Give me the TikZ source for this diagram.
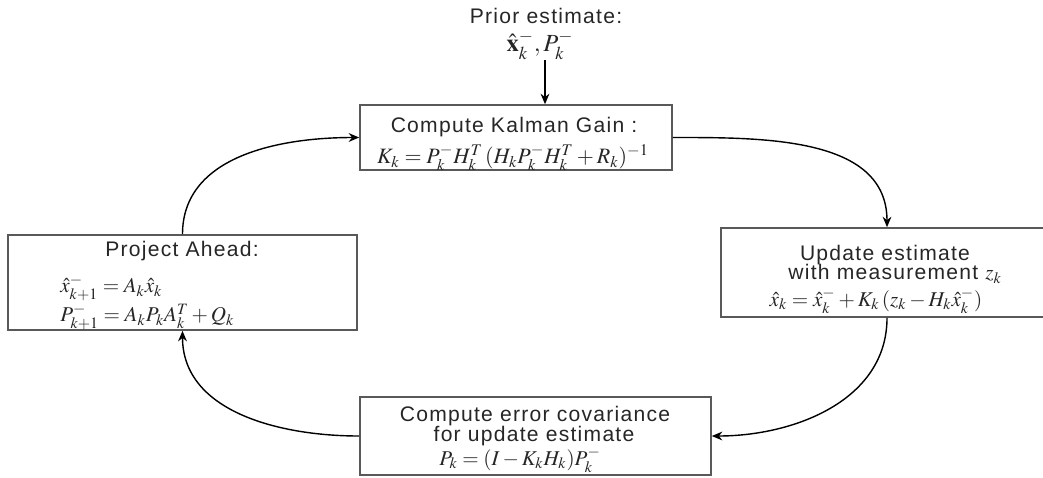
\documentclass[tikz,border=0pt]{standalone}
\usepackage{mathptmx}
\usepackage[no-math]{fontspec}
\setmainfont{Liberation Sans}
\newfontfamily\lab[LetterSpace=6]{Liberation Sans}
\usetikzlibrary{arrows.meta}
\begin{document}
\begin{tikzpicture}[x=0.02cm,y=-0.02cm,
  box/.style={draw=black!65, line width=0.9pt, inner sep=0pt},
  lbl/.style={inner sep=0pt, text=black!85, font=\lab\fontsize{12}{14}\selectfont},
  eq/.style={inner sep=0pt, text=black!85, font=\fontsize{12}{14}\selectfont},
  arr/.style={line width=0.8pt, -{Stealth[length=6pt,width=5pt]}}]
\useasboundingbox (0,0) rectangle (1043,477);
% boxes
\node[box, minimum width=312*0.02cm, minimum height=65*0.02cm] (t) at (516,137.5) {};
\node[box, minimum width=349*0.02cm, minimum height=95*0.02cm] (l) at (182.5,282.5) {};
\node[box, minimum width=332*0.02cm, minimum height=89*0.02cm] (r) at (887,272.5) {};
\node[box, minimum width=351*0.02cm, minimum height=78*0.02cm] (b) at (535.5,436) {};
% prior
\node[lbl] (p1) at (546,16) {Prior estimate:};
\node[eq, font=\fontsize{14}{16}\selectfont] (p2) at (540,45) {$\hat{\mathbf{x}}_k^-, P_k^-$};
% top box text
\node[lbl] (t1) at (514,127) {Compute Kalman Gain :};
\node[eq, font=\fontsize{12.5}{14}\selectfont] (t2) at (513,158) {$K_k = P_k^- H_k^T\,(H_k P_k^- H_k^T + R_k)^{-1}$};
% left box text
\node[lbl] (l1) at (182,251) {Project Ahead:};
\node[eq, anchor=west] (l2) at (60,288) {$\hat{x}_{k+1}^- = A_k \hat{x}_k$};
\node[eq, anchor=west] (l3) at (60,317) {$P_{k+1}^- = A_k P_k A_k^T + Q_k$};
% right box text
\node[lbl] (r1) at (885,255) {Update estimate};
\node[lbl, anchor=west] (r2) at (788,274) {with measurement $z_k$};
\node[eq] (r3) at (876,301) {$\hat{x}_k = \hat{x}_k^- + K_k\,(z_k - H_k \hat{x}_k^-)$};
% bottom box text
\node[lbl] (b1) at (535,416) {Compute error covariance};
\node[lbl] (b2) at (534,436) {for update estimate};
\node[eq] (b3) at (520,460) {$P_k = (I - K_k H_k) P_k^-$};
% connectors
\coordinate (ps) at (545,60);
\draw[arr] (ps) -- (t.north -| ps);
\draw[arr] (t.east) to[out=0,in=90] (r.north);
\draw[arr] (r.south) to[out=-90,in=0] (b.east);
\draw[arr] (b.west) to[out=180,in=-90] (l.south);
\draw[arr] (l.north) to[out=90,in=180] (t.west);
\end{tikzpicture}
\end{document}
